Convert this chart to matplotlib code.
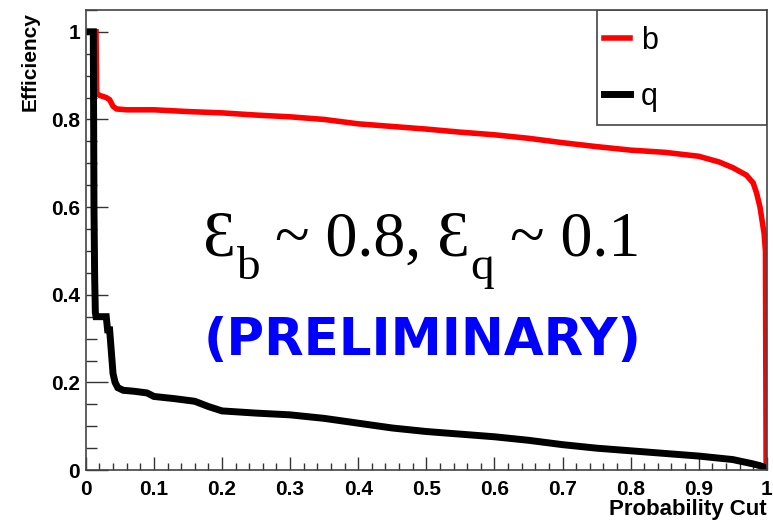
import matplotlib
matplotlib.use("Agg")
import matplotlib.pyplot as plt
from matplotlib.patches import Rectangle
from matplotlib.ticker import MultipleLocator

# efficiency curves
cut_b = [0.0, 0.015, 0.016, 0.02, 0.03, 0.035, 0.04, 0.045, 0.06, 0.1, 0.15, 0.2, 0.25,
         0.3, 0.35, 0.4, 0.45, 0.5, 0.55, 0.6, 0.65, 0.7, 0.75, 0.8, 0.85, 0.9, 0.93,
         0.95, 0.97, 0.98, 0.985, 0.99, 0.993, 0.996, 0.998, 0.999]
eff_b = [1.0, 1.0, 0.86, 0.855, 0.85, 0.845, 0.83, 0.824, 0.822, 0.822, 0.818, 0.815, 0.81,
         0.806, 0.8, 0.79, 0.784, 0.778, 0.771, 0.765, 0.757, 0.747, 0.738, 0.73, 0.725,
         0.716, 0.703, 0.69, 0.673, 0.655, 0.632, 0.6, 0.57, 0.54, 0.5, 0.0]

cut_q = [0.0, 0.011, 0.012, 0.013, 0.014, 0.015, 0.03, 0.032, 0.035, 0.037, 0.04, 0.043,
         0.047, 0.055, 0.07, 0.09, 0.1, 0.13, 0.16, 0.18, 0.2, 0.25, 0.3, 0.35, 0.4, 0.45,
         0.5, 0.55, 0.6, 0.65, 0.7, 0.75, 0.8, 0.85, 0.9, 0.95, 0.98, 0.99, 1.0]
eff_q = [1.0, 1.0, 0.6, 0.44, 0.36, 0.35, 0.35, 0.32, 0.32, 0.28, 0.22, 0.2,
         0.188, 0.182, 0.18, 0.176, 0.168, 0.163, 0.157, 0.145, 0.135, 0.13, 0.126, 0.118,
         0.107, 0.096, 0.088, 0.082, 0.076, 0.068, 0.058, 0.05, 0.044, 0.038, 0.032, 0.024,
         0.014, 0.01, 0.004]

fig = plt.figure(figsize=(7.73, 5.2), dpi=100)
ax = fig.add_axes([0.111, 0.096, 0.881, 0.885])

line_b, = ax.plot(cut_b, eff_b, color='#ff0000', lw=4, solid_joinstyle='miter', label='b')
line_q, = ax.plot(cut_q, eff_q, color='black', lw=5, solid_joinstyle='miter', label='q')

ax.set_xlim(0, 1.0)
ax.set_ylim(0, 1.05)

# ROOT-like axes
for s in ax.spines.values():
    s.set_color('#444444')
    s.set_linewidth(1.2)
ax.xaxis.set_major_locator(MultipleLocator(0.1))
ax.xaxis.set_minor_locator(MultipleLocator(0.02))
ax.yaxis.set_major_locator(MultipleLocator(0.2))
ax.yaxis.set_minor_locator(MultipleLocator(0.05))
ax.tick_params(axis='both', which='both', direction='in', color='#333333', width=1.0)
ax.tick_params(axis='x', which='major', length=9.5, pad=7)
ax.tick_params(axis='x', which='minor', length=5)
ax.tick_params(axis='y', which='major', length=16, pad=4)
ax.tick_params(axis='y', which='minor', length=8)
ax.set_xticks([0, 0.1, 0.2, 0.3, 0.4, 0.5, 0.6, 0.7, 0.8, 0.9, 1.0])
ax.set_xticklabels(['0', '0.1', '0.2', '0.3', '0.4', '0.5', '0.6', '0.7', '0.8', '0.9', '1'])
ax.set_yticks([0, 0.2, 0.4, 0.6, 0.8, 1.0])
ax.set_yticklabels(['0', '0.2', '0.4', '0.6', '0.8', '1'])
for lab in ax.get_xticklabels() + ax.get_yticklabels():
    lab.set_fontfamily('Liberation Sans')
    lab.set_fontweight('bold')
    lab.set_fontsize(15)

ax.set_xlabel('Probability Cut', fontfamily='Liberation Sans', fontweight='bold',
              fontsize=16, loc='right')
ax.xaxis.set_label_coords(1.0, -0.063)
ax.xaxis.label.set_verticalalignment('top')
ax.set_ylabel('Efficiency', fontfamily='Liberation Sans', fontweight='bold',
              fontsize=15, loc='top')
ax.yaxis.set_label_coords(-0.068, 0.995)

# legend box like the ROOT TLegend
ax.add_patch(Rectangle((0.75, 0.75), 0.25, 0.25, transform=ax.transAxes, fill=False,
                       edgecolor='#444444', lw=1.2, zorder=5))
ax.legend(handles=[line_b, line_q], loc='upper left', bbox_to_anchor=(0.73, 1.012),
          frameon=False, prop={'family': 'Liberation Sans', 'size': 22},
          handlelength=0.85, handletextpad=0.35, labelspacing=0.85, borderpad=0.2)

# "eps_b ~ 0.8, eps_q ~ 0.1" built piece by piece, subscripts dropped like the original
serif = ['Liberation Serif', 'DejaVu Serif']
base_y = 0.467
pieces = [('\u0190', 47, 0), ('b', 34, -17), (' ~ 0.8, ', 46, 0),
          ('\u0190', 47, 0), ('q', 34, -17), (' ~ 0.1', 46, 0)]
prev = ax.text(0.172, base_y, '', transform=ax.transAxes, ha='left', va='baseline')
for txt, size, drop in pieces:
    prev = ax.annotate(txt, xy=(1, base_y), xycoords=(prev, 'axes fraction'),
                       xytext=(0, drop), textcoords='offset points',
                       ha='left', va='baseline', fontsize=size, fontfamily=serif)

ax.text(0.495, 0.25, '(PRELIMINARY)', transform=ax.transAxes, ha='center', va='baseline',
        fontsize=37, fontweight='bold', color='#0000ff', fontfamily='DejaVu Sans')

fig.savefig('out.png', dpi=100)
